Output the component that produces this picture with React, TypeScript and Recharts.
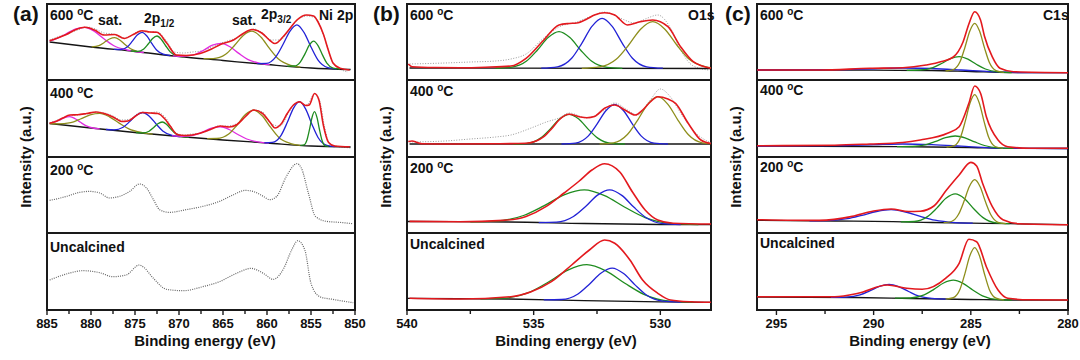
import React from "react";
import { LineChart, Line, XAxis, YAxis, ReferenceArea } from "recharts";

type Pt = [number, number];

const FONT = '"Liberation Sans", Arial, sans-serif';
const INK = "#1a1a1a";

// row edges (px), shared by the three panels
const ROW_EDGES = [4, 80, 157, 233, 310];
const temps = ["600", "400", "200", "Uncalcined"];

// ---------- Ni 2p ----------
const niTicks = [885, 882.5, 880, 877.5, 875, 872.5, 870, 867.5, 865, 862.5, 860, 857.5, 855, 852.5, 850];

const ni600Base: Pt[] = [[884.7, 38], [880, 33], [875, 28.5], [870, 23.5], [865, 19.5], [860, 15.5], [855, 12], [850.5, 10.5]];
const ni600Fit: Pt[] = [[884.7, 39.3], [883.8, 42], [882.8, 45.5], [881.7, 50.5], [880.7, 52.7], [879.6, 50], [878.5, 45], [877.3, 45.5], [876.2, 41.5], [875.2, 45.5], [874.2, 49.3], [873.3, 48], [872.5, 47.7], [871.4, 37], [870.3, 25], [869.2, 24.5], [867.6, 26.5], [866.3, 31], [865.3, 35.5], [863.8, 40], [862.7, 46.5], [861.7, 50.5], [860.6, 47], [859.6, 39], [859.1, 36.5], [858.2, 43], [857.4, 51.5], [856.6, 60], [855.5, 65], [854.7, 64], [854.2, 58], [853.6, 46], [853, 29], [852.5, 17], [851.7, 11.7], [850.6, 10]];
const ni600Raw: Pt[] = [[884.7, 40], [883.5, 44], [882.5, 47], [881.5, 50], [880.5, 53], [879.5, 51], [878.5, 47], [877.5, 46], [876.5, 42], [875.5, 44], [874.5, 49], [873.5, 48], [872.5, 48], [871.5, 40], [870.5, 28], [869.5, 27], [868.5, 28], [867.5, 29], [866.5, 32], [865.5, 36], [864.5, 39], [863.5, 42], [862.5, 47], [861.5, 51], [860.5, 47], [859.5, 40], [858.5, 40], [857.5, 50], [856.5, 60], [855.5, 64], [854.5, 62], [853.5, 43], [852.5, 17], [851.5, 10], [850.8, 8]];
const ni600Pink1: Pt[] = [[884.7, 39], [884, 41], [882.9, 45.7], [881.8, 51], [880.7, 52.7], [879.6, 48.6], [878.5, 41], [877.4, 34.2], [875.9, 30], [874, 27.5]];
const ni600Olive1: Pt[] = [[879.9, 33.2], [879.1, 34.4], [878.5, 37.5], [877.9, 41], [877.3, 42.4], [876.7, 39.8], [876.1, 35.2], [875.5, 31.3], [874.7, 28.5]];
const ni600Blue1: Pt[] = [[877.4, 30.7], [876.6, 30.5], [875.85, 33.3], [875.3, 38.8], [874.75, 45], [874.2, 47.7], [873.65, 44], [873.1, 36.6], [872.55, 30], [871.8, 25.8], [871, 24.5]];
const ni600Green1: Pt[] = [[875.5, 29], [874.7, 28.7], [874, 31.1], [873.5, 36], [873, 41.5], [872.5, 44], [872, 40.5], [871.5, 34], [871, 28.1], [870.3, 24.3], [869.5, 23.1]];
const ni600Pink2: Pt[] = [[870.7, 24.2], [869.6, 23.7], [868.2, 25.5], [867.2, 29.8], [866.2, 34.8], [865.2, 36.7], [864.2, 33.2], [863.2, 26.6], [862.2, 20.7], [860.8, 16.7], [859.7, 15.3]];
const ni600Olive2: Pt[] = [[867.2, 21.3], [866.1, 21.4], [864.7, 25.7], [863.7, 34.5], [862.7, 44.6], [861.7, 48.9], [860.7, 43], [859.7, 31.3], [858.7, 21], [857.3, 14.6], [856.2, 12.8]];
const ni600Blue2: Pt[] = [[861.1, 16.4], [860.1, 16.6], [859, 23.2], [858.2, 35.2], [857.4, 48.7], [856.6, 55.1], [855.8, 47.6], [855, 33], [854.2, 19.9], [853.1, 12.4], [852.1, 11]];
const ni600Green2: Pt[] = [[857.7, 13.9], [856.9, 14], [856.2, 18.2], [855.7, 25.9], [855.2, 34.8], [854.7, 38.9], [854.2, 34.4], [853.7, 25.1], [853.2, 16.8], [852.5, 11.9], [851.7, 11]];

const ni400Base: Pt[] = [[884.7, 33.5], [880, 29], [875, 24.5], [870, 20.5], [865, 17], [860, 14], [855, 11], [850.5, 10]];
const ni400Fit: Pt[] = [[884.7, 33.8], [884, 35.5], [883.2, 39], [882.4, 42], [881.5, 42.3], [880.5, 43.5], [879.4, 45], [878.5, 43.5], [877.5, 40], [876.5, 35.5], [875.8, 36], [875, 40.5], [874.2, 44.5], [873.3, 44], [872.4, 43.5], [871.6, 38], [871, 31], [870.2, 22.5], [869.3, 21.5], [867.6, 23.7], [866.3, 28], [865.3, 31], [864.3, 30], [863.4, 32.5], [862.5, 40], [861.5, 47], [860.5, 43.5], [859.6, 34], [859.1, 29], [858.4, 33], [857.7, 43.5], [857, 52], [856.3, 55.3], [855.6, 51.5], [855.2, 52], [854.6, 63.5], [854.1, 57], [853.6, 32], [853, 14.5], [852.3, 11], [850.6, 10.2]];
const ni400Raw: Pt[] = [[884.7, 34], [883.5, 38], [882.5, 41], [881.5, 42], [880.5, 43], [879.5, 45], [878.5, 44], [877.5, 41], [876.5, 37], [875.5, 38], [874.5, 44], [873.5, 44], [872.5, 45], [871.5, 39], [870.5, 25], [869.5, 22], [868.5, 23], [867.5, 24], [866.5, 27], [865.5, 31], [864.5, 31], [863.5, 33], [862.5, 40], [861.5, 47], [860.5, 45], [859.5, 33], [858.5, 31], [857.5, 45], [856.5, 55], [855.5, 52], [854.6, 63], [854, 56], [853.5, 32], [852.8, 12], [851.5, 10], [850.5, 9]];
const ni400Pink1: Pt[] = [[884.7, 33.7], [884.2, 34.8], [883.6, 36.9], [883, 39.4], [882.4, 40.3], [881.8, 38.3], [881.2, 34.7], [880.6, 31.4], [879.8, 29], [879, 28.1]];
const ni400Olive1: Pt[] = [[884.7, 33.5], [883.8, 33.1], [882.3, 34.3], [881.2, 38], [880.1, 42.2], [879, 43.7], [877.9, 40.2], [876.8, 33.9], [875.7, 28.2], [874.2, 24.4], [873, 22.9]];
const ni400Blue1: Pt[] = [[878.3, 27.5], [877.4, 27.2], [876.35, 29.8], [875.6, 35.4], [874.85, 41.8], [874.1, 44.5], [873.35, 40.6], [872.6, 33], [871.85, 26.1], [870.8, 21.6], [869.9, 20.4]];
const ni400Green1: Pt[] = [[874.9, 24.4], [874.1, 24.1], [873.4, 25.8], [872.9, 29.3], [872.4, 33.3], [871.9, 35], [871.4, 32.5], [870.9, 27.7], [870.4, 23.4], [869.7, 20.6], [868.9, 19.7]];
const ni400Pink2: Pt[] = [[870.8, 21.1], [869.7, 20.7], [868.3, 21.9], [867.3, 25.1], [866.3, 28.8], [865.3, 30.2], [864.3, 27.5], [863.3, 22.5], [862.3, 18], [860.9, 14.9], [859.8, 13.9]];
const ni400Olive2: Pt[] = [[866.8, 18.3], [865.7, 18.5], [864.35, 23], [863.4, 32], [862.45, 42.4], [861.5, 46.9], [860.55, 41.2], [859.6, 29.8], [858.65, 19.6], [857.3, 13.4], [856.2, 11.7]];
const ni400Blue2: Pt[] = [[860.3, 14.2], [859.4, 14.6], [858.4, 21.7], [857.7, 34.4], [857, 48.7], [856.3, 55.3], [855.6, 47.9], [854.9, 32.8], [854.2, 19.5], [853.2, 11.6], [852.3, 10.4]];
const ni400Green2: Pt[] = [[856.2, 11.7], [855.8, 12.1], [855.45, 17.3], [855.15, 28.3], [854.9, 39], [854.6, 45.3], [854.3, 38.8], [854.05, 28], [853.75, 16.7], [853.4, 11.2], [853, 10.6]];

const ni200Raw: Pt[] = [[884.7, 32.6], [883.7, 34.5], [882.8, 36.6], [881.3, 40.6], [880.2, 41.6], [879, 40], [877.9, 35], [876.8, 36.6], [875.6, 41.6], [874.5, 49], [873.7, 45], [872.9, 33.3], [872.2, 23.3], [871.1, 20.6], [869.2, 23.3], [867.3, 26.6], [865.4, 31.6], [863.8, 38.3], [862.5, 42.6], [861.6, 41.6], [860.4, 36.6], [859.7, 33.3], [858.9, 36.6], [857.8, 56.6], [856.6, 69.3], [856.1, 65], [855.3, 40], [854.5, 16.6], [853.2, 11.6], [851.7, 10.6], [850.2, 9.3]];
const niUncRaw: Pt[] = [[884.7, 30], [882.8, 36], [880.9, 39.3], [879, 37.3], [877.5, 33.3], [876, 35], [874.5, 45], [874.1, 43.3], [872.9, 31.6], [871.4, 20.6], [869.5, 19.3], [867.3, 23.3], [865.4, 28.3], [863.5, 36.6], [861.8, 41.6], [860.4, 36.6], [859.3, 30.6], [858.1, 41.6], [857.2, 60], [856.5, 69.3], [855.7, 60], [855, 26.6], [854, 13.3], [852.5, 10.6], [850.2, 7.3]];

// ---------- O 1s ----------
const oTicks = [540, 537.5, 535, 532.5, 530];

const o600Base: Pt[] = [[539.9, 12], [528, 11.5]];
const o600Fit: Pt[] = [[539.95, 16], [539.8, 13.3], [538.9, 12.5], [537.9, 12.3], [536.9, 12.8], [535.9, 14], [535.3, 21.7], [534.6, 40], [534, 55], [533.6, 56.5], [533.3, 57], [532.9, 61], [532.6, 65], [532.2, 67.3], [531.8, 65], [531.3, 55], [530.8, 58.3], [530.3, 60], [529.7, 53.3], [529.2, 33.3], [528.7, 18.3], [528, 11.7]];
const o600Raw: Pt[] = [[539.9, 16], [538.5, 17], [537.5, 18], [536.5, 19], [535.9, 21], [535.3, 26], [534.6, 42], [534, 53], [533.3, 58], [532.6, 65], [532.2, 68], [531.6, 62], [531, 57], [530.5, 62], [530.1, 65], [529.6, 52], [529.2, 30], [528.7, 14], [528.1, 10]];
const o600Green: Pt[] = [[536.5, 11.7], [535.9, 12.7], [535.28, 19], [534.85, 30], [534.43, 42.4], [534, 48.3], [533.57, 42.4], [533.15, 30], [532.72, 19], [532.1, 12.7], [531.5, 11.7]];
const o600Blue: Pt[] = [[534.7, 11.8], [534.06, 13.2], [533.5, 21.7], [533.1, 36.7], [532.7, 53.7], [532.3, 61.7], [531.9, 53.7], [531.5, 36.7], [531.1, 21.7], [530.54, 13.2], [529.9, 11.8]];
const o600Olive: Pt[] = [[533.1, 11.7], [532.4, 13.1], [531.73, 21], [531.25, 35], [530.78, 50.8], [530.3, 58.3], [529.82, 50.8], [529.35, 35], [528.87, 21], [528.2, 13.1], [528, 12.3]];

const o400Base: Pt[] = [[539.9, 13], [528, 13]];
const o400Fit: Pt[] = [[539.95, 15.5], [539.8, 16], [539.6, 14.5], [539.4, 13.2], [538, 13], [536.5, 13.2], [535.3, 13.7], [534.9, 16], [534.6, 20.3], [534.3, 28], [534, 37], [533.6, 42.7], [533.2, 40.3], [532.9, 39.3], [532.6, 40.5], [532.2, 48.7], [531.8, 52], [531.4, 47], [531, 42], [530.7, 47], [530.4, 55], [530.1, 60.3], [529.7, 58], [529.4, 53.7], [528.9, 33.7], [528.4, 17], [528, 13.5]];
const o400Raw: Pt[] = [[539.9, 15], [538.5, 16], [537.5, 18], [536.5, 20], [535.9, 22], [535.1, 29], [534.5, 35], [534, 39], [533.6, 44], [532.9, 39], [532.2, 47], [531.8, 54], [531.3, 47], [530.9, 42], [530.4, 57], [530, 68], [529.6, 60], [529.2, 44], [528.6, 24], [528, 14]];
const o400Green: Pt[] = [[535.8, 13], [535.25, 13.7], [534.73, 18.9], [534.35, 27.9], [533.98, 38], [533.6, 42.7], [533.22, 38], [532.85, 27.9], [532.47, 18.9], [531.95, 13.7], [531.4, 13]];
const o400Blue: Pt[] = [[533.9, 13], [533.35, 13.9], [532.85, 20.9], [532.5, 32.9], [532.15, 46.3], [531.8, 52.7], [531.45, 46.3], [531.1, 32.9], [530.75, 20.9], [530.25, 13.9], [529.7, 13]];
const o400Olive: Pt[] = [[532.4, 13.1], [531.85, 14.2], [531.3, 22.5], [530.9, 36.7], [530.5, 52.7], [530.1, 60.3], [529.7, 52.7], [529.3, 36.7], [528.9, 22.5], [528.35, 14.2], [528, 13.3]];

const o200Base: Pt[] = [[540, 11.5], [536, 11], [533, 9.5], [530, 8.5], [528, 8.3]];
const o200Fit: Pt[] = [[539.9, 11.6], [537.9, 11.2], [536.2, 12.6], [535.3, 16.6], [534.5, 26.6], [533.8, 40], [533.2, 52], [532.7, 63], [532.2, 69.3], [531.6, 61], [531.1, 41], [530.6, 23], [530.1, 13], [529.5, 9.8], [528, 9]];
const o200Green: Pt[] = [[537.5, 11.2], [536.5, 11.9], [535.4, 17.5], [534.6, 27.1], [533.8, 38.1], [533, 43.1], [532.2, 37.4], [531.4, 25.8], [530.6, 15.4], [529.5, 9.3], [528.5, 8.3]];
const o200Blue: Pt[] = [[534.8, 10.4], [534.1, 10.8], [533.43, 16.5], [532.95, 26.5], [532.48, 37.9], [532, 43.2], [531.52, 37.6], [531.05, 25.9], [530.57, 15.5], [529.9, 9.3], [529.2, 8.4]];

const oUncBase: Pt[] = [[540, 11.7], [536, 11], [533, 9.3], [530, 8.2], [528, 7.7]];
const oUncFit: Pt[] = [[539.9, 11.7], [537.9, 11], [535.9, 13.3], [535.1, 18.3], [534.3, 28.3], [533.5, 45], [532.8, 60], [532.2, 70], [531.8, 66.7], [531.2, 50], [530.7, 30], [530.1, 16.7], [529.6, 10], [528.8, 8.2], [528, 7.7]];
const oUncGreen: Pt[] = [[537.1, 11.2], [536.2, 11.8], [535.15, 17.9], [534.4, 28.2], [533.65, 39.9], [532.9, 45.3], [532.15, 39.2], [531.4, 26.8], [530.65, 15.7], [529.6, 8.8], [528.7, 7.8]];
const oUncBlue: Pt[] = [[534.6, 10.2], [533.9, 10.5], [533.25, 16], [532.8, 25.8], [532.35, 36.8], [531.9, 41.9], [531.45, 36.4], [531, 25.1], [530.55, 15], [529.9, 8.9], [529.2, 8]];

// ---------- C 1s ----------
const cTicks = [295, 292.5, 290, 287.5, 285, 282.5, 280];

const c600Base: Pt[] = [[296, 10], [290, 9.8], [287, 9.5], [285, 8.5], [283, 7.5], [280, 7.3]];
const c600Fit: Pt[] = [[296, 10], [292.8, 10], [290.2, 11.7], [288.5, 12.3], [287.3, 15], [286.5, 18.5], [285.9, 23], [285.4, 38], [285.1, 56], [284.8, 68.3], [284.5, 60], [284.3, 44], [283.9, 23.3], [283.5, 11.7], [282.8, 8.3], [280, 7.3]];
const c600Blue: Pt[] = [[296, 10], [292, 10.3], [290, 11.2], [288.5, 12], [287, 11.5], [285.5, 10], [284, 8.3], [282.5, 7.4], [280, 7.3]];
const c600Green: Pt[] = [[288.3, 9.7], [287.6, 10], [286.95, 12.4], [286.5, 16.5], [286.05, 21.3], [285.6, 23.3], [285.15, 20.8], [284.7, 15.5], [284.25, 11], [283.6, 8.2], [282.9, 7.5]];
const c600Olive: Pt[] = [[286.3, 9], [285.9, 10.4], [285.55, 18.4], [285.3, 32.8], [285.05, 49.1], [284.8, 56.7], [284.55, 48.9], [284.3, 32.4], [284.05, 17.8], [283.7, 9.4], [283.3, 7.7]];

const c400Base: Pt[] = [[296, 11], [290, 10.5], [287, 10], [285, 9.5], [283, 8.7], [280, 8.5]];
const c400Fit: Pt[] = [[296, 11.3], [292, 11.8], [290.2, 13], [288.5, 14.5], [287.6, 17], [286.2, 23.7], [285.6, 30.3], [285.1, 53.7], [284.8, 71], [284.5, 63.7], [284.2, 40.3], [283.6, 17], [283.1, 10.3], [282, 8.8], [280, 8.7]];
const c400Blue: Pt[] = [[296, 11], [292, 11.3], [290, 12.3], [288.5, 13], [287, 12.3], [285.5, 10.8], [284, 9.2], [282.5, 8.6], [280, 8.5]];
const c400Green: Pt[] = [[288.8, 10.3], [288, 10.5], [287.3, 12.3], [286.8, 15.6], [286.3, 19.3], [285.8, 21], [285.3, 19.1], [284.8, 15.1], [284.3, 11.5], [283.6, 9.2], [282.8, 8.7]];
const c400Olive: Pt[] = [[286.25, 9.8], [285.85, 11.3], [285.52, 20.3], [285.28, 36.1], [285.04, 54], [284.8, 62.4], [284.56, 53.8], [284.32, 35.7], [284.08, 19.7], [283.75, 10.5], [283.35, 8.8]];

const c200Base: Pt[] = [[296, 12.6], [292, 12], [289, 11.3], [287, 10.5], [285, 9.8], [283, 9.3], [280, 8.3]];
const c200Fit: Pt[] = [[296, 13.3], [292.8, 12.6], [291.1, 16.6], [290, 22], [289.1, 24], [288.2, 21.5], [287.6, 21.8], [286.9, 27], [286.25, 43], [285.6, 58], [285, 70.6], [284.7, 67], [284.4, 50], [283.9, 26.6], [283.35, 13.3], [282.5, 9.3], [280, 8.3]];
const c200Blue: Pt[] = [[293.3, 12.2], [292.4, 12.4], [291.35, 14.3], [290.6, 17.7], [289.85, 21.5], [289.1, 23.3], [288.35, 21], [287.6, 16.7], [286.85, 12.8], [285.8, 10.4], [284.9, 9.8]];
const c200Green: Pt[] = [[288.6, 11.1], [287.9, 11.5], [287.23, 16.4], [286.75, 24.9], [286.28, 34.7], [285.8, 39.1], [285.32, 34.3], [284.85, 24.3], [284.37, 15.4], [283.7, 10.1], [283, 9.3]];
const c200Olive: Pt[] = [[286.4, 10.3], [286, 11.5], [285.63, 18.7], [285.35, 31.7], [285.08, 46.3], [284.8, 53.3], [284.52, 46.2], [284.25, 31.4], [283.97, 18.2], [283.6, 10.7], [283.2, 9.3]];

const cUncBase: Pt[] = [[296, 13], [291, 12.5], [288, 11.5], [285, 10.5], [283, 10], [280, 9.8]];
const cUncFit: Pt[] = [[296, 13.3], [292, 13.3], [290.8, 16.7], [289.3, 25], [288.3, 21.7], [287.5, 20.7], [286.3, 31.7], [285.6, 46.7], [285.1, 70.7], [284.7, 68.3], [284.2, 43.3], [283.6, 20], [283.1, 11.7], [282, 10.2], [280, 10]];
const cUncBlue: Pt[] = [[292.2, 12.6], [291.4, 12.9], [290.7, 15.1], [290.2, 19.1], [289.7, 23.6], [289.2, 25.6], [288.7, 23.2], [288.2, 18.5], [287.7, 14.1], [287, 11.6], [286.2, 10.9]];
const cUncGreen: Pt[] = [[288.9, 11.8], [288.1, 12], [287.4, 15.1], [286.9, 20.6], [286.4, 27], [285.9, 29.8], [285.4, 26.6], [284.9, 20], [284.4, 14.2], [283.7, 10.7], [282.9, 10]];
const cUncOlive: Pt[] = [[286.3, 10.9], [285.9, 12.4], [285.55, 21.1], [285.3, 36.6], [285.05, 54.2], [284.8, 62.4], [284.55, 54], [284.3, 36.3], [284.05, 20.6], [283.7, 11.8], [283.3, 10.1]];

// ---------- styling ----------
type Kind = "raw" | "scan" | "base" | "pink" | "olive" | "blue" | "green" | "fit";
const LINE_STYLE: Record<Kind, { stroke: string; width: number; dash?: string }> = {
  raw: { stroke: "#9a9a9a", width: 1, dash: "1 1.6" },
  scan: { stroke: "#666666", width: 1.2, dash: "1 1.2" },
  base: { stroke: "#141414", width: 1.3 },
  pink: { stroke: "#e02ce0", width: 1.3 },
  olive: { stroke: "#8e8e1c", width: 1.3 },
  blue: { stroke: "#2222d6", width: 1.3 },
  green: { stroke: "#1f8c1f", width: 1.3 },
  fit: { stroke: "#e3191e", width: 1.6 },
};

type Curve = [Kind, Pt[]];

const niRows: Curve[][] = [
  [["raw", ni600Raw], ["base", ni600Base], ["pink", ni600Pink1], ["olive", ni600Olive1], ["blue", ni600Blue1], ["green", ni600Green1], ["pink", ni600Pink2], ["olive", ni600Olive2], ["blue", ni600Blue2], ["green", ni600Green2], ["fit", ni600Fit]],
  [["raw", ni400Raw], ["base", ni400Base], ["pink", ni400Pink1], ["olive", ni400Olive1], ["blue", ni400Blue1], ["green", ni400Green1], ["pink", ni400Pink2], ["olive", ni400Olive2], ["blue", ni400Blue2], ["green", ni400Green2], ["fit", ni400Fit]],
  [["scan", ni200Raw]],
  [["scan", niUncRaw]],
];
const oRows: Curve[][] = [
  [["raw", o600Raw], ["base", o600Base], ["green", o600Green], ["blue", o600Blue], ["olive", o600Olive], ["fit", o600Fit]],
  [["raw", o400Raw], ["base", o400Base], ["green", o400Green], ["blue", o400Blue], ["olive", o400Olive], ["fit", o400Fit]],
  [["base", o200Base], ["green", o200Green], ["blue", o200Blue], ["fit", o200Fit]],
  [["base", oUncBase], ["green", oUncGreen], ["blue", oUncBlue], ["fit", oUncFit]],
];
const cRows: Curve[][] = [
  [["base", c600Base], ["blue", c600Blue], ["green", c600Green], ["olive", c600Olive], ["fit", c600Fit]],
  [["base", c400Base], ["blue", c400Blue], ["green", c400Green], ["olive", c400Olive], ["fit", c400Fit]],
  [["base", c200Base], ["blue", c200Blue], ["green", c200Green], ["olive", c200Olive], ["fit", c200Fit]],
  [["base", cUncBase], ["blue", cUncBlue], ["green", cUncGreen], ["olive", cUncOlive], ["fit", cUncFit]],
];

type Panel = {
  left: number;
  right: number;
  domain: [number, number];
  ticks: number[];
  rows: Curve[][];
  tag: string;
  tagLeft: number;
  labelLeft: number;
  labelTops: number[];
  titleCenter: number;
  yLabelCenter: number;
  notes: { left: number; top: number; text: string; sub?: string }[];
};

const panels: Panel[] = [
  {
    left: 47, right: 355, domain: [850, 885], ticks: niTicks, rows: niRows,
    tag: "(a)", tagLeft: 13, labelLeft: 50, labelTops: [8, 86, 163, 240],
    titleCenter: 205, yLabelCenter: 25,
    notes: [
      { left: 98, top: 13, text: "sat." },
      { left: 144, top: 11, text: "2p", sub: "1/2" },
      { left: 232, top: 13, text: "sat." },
      { left: 261, top: 7, text: "2p", sub: "3/2" },
      { left: 319, top: 8, text: "Ni 2p" },
    ],
  },
  {
    left: 407, right: 711, domain: [528, 540], ticks: oTicks, rows: oRows,
    tag: "(b)", tagLeft: 373, labelLeft: 410, labelTops: [8, 84, 161, 237],
    titleCenter: 566, yLabelCenter: 385,
    notes: [{ left: 688, top: 8, text: "O1s" }],
  },
  {
    left: 757, right: 1068, domain: [280, 296], ticks: cTicks, rows: cRows,
    tag: "(c)", tagLeft: 725, labelLeft: 760, labelTops: [8, 83, 160, 236],
    titleCenter: 920, yLabelCenter: 735,
    notes: [{ left: 1043, top: 8, text: "C1s" }],
  },
];

const PAD = 14; // side room so edge tick labels are not clipped

const isMajor = (v: number) => Math.abs(v % 5) < 1e-6;

const TopTick = (p: any) => (
  <line x1={p.x} x2={p.x} y1={p.y} y2={p.y + (isMajor(p.payload.value) ? 5 : 4)} stroke={INK} strokeWidth={1.4} />
);

const BottomTick = (p: any) => {
  const v = p.payload.value;
  const major = isMajor(v);
  return (
    <g>
      <line x1={p.x} x2={p.x} y1={p.y} y2={p.y + (major ? 5 : 4)} stroke={INK} strokeWidth={1.4} />
      {major && (
        <text x={p.x} y={p.y + 18} textAnchor="middle" fontFamily={FONT} fontWeight="bold" fontSize={13} fill="#111">
          {v}
        </text>
      )}
    </g>
  );
};

function Row({ panel, index }: { panel: Panel; index: number }) {
  const top = ROW_EDGES[index];
  const h = ROW_EDGES[index + 1] - top;
  const last = index === 3;
  const w = panel.right - panel.left;
  const [lo, hi] = panel.domain;
  return (
    <div style={{ position: "absolute", left: panel.left - PAD, top: top - 1 }}>
      <LineChart width={w + 2 * PAD} height={h + 1 + (last ? 30 : 1)} margin={{ top: 1, right: PAD, bottom: last ? 0 : 1, left: PAD }}>
        <XAxis
          xAxisId="t" orientation="top" type="number" dataKey="x" domain={panel.domain} reversed allowDataOverflow
          ticks={panel.ticks} interval={0} height={0} axisLine={false} tickLine={false} tickSize={0} tickMargin={0}
          tick={index === 0 ? false : TopTick}
        />
        {last && (
          <XAxis
            xAxisId="b" orientation="bottom" type="number" dataKey="x" domain={panel.domain} reversed allowDataOverflow
            ticks={panel.ticks} interval={0} height={30} axisLine={false} tickLine={false} tickSize={0} tickMargin={0}
            tick={BottomTick}
          />
        )}
        <YAxis yAxisId="y" hide type="number" domain={[0, h]} allowDataOverflow />
        {panel.rows[index].map(([kind, pts], i) => {
          const s = LINE_STYLE[kind];
          return (
            <Line
              key={i} xAxisId="t" yAxisId="y" data={pts.map(([x, y]) => ({ x, y }))} dataKey="y"
              type="monotone" stroke={s.stroke} strokeWidth={s.width} strokeDasharray={s.dash}
              dot={false} activeDot={false} isAnimationActive={false}
            />
          );
        })}
        <ReferenceArea xAxisId="t" yAxisId="y" x1={lo} x2={hi} y1={0} y2={h} fill="none" stroke={INK} strokeWidth={2} ifOverflow="visible" />
      </LineChart>
    </div>
  );
}

const textBase: React.CSSProperties = { position: "absolute", fontFamily: FONT, fontWeight: "bold", color: "#111", lineHeight: 1, whiteSpace: "nowrap" };

function TempLabel({ t }: { t: string }) {
  if (t === "Uncalcined") return <>Uncalcined</>;
  return (
    <>
      {t} <span style={{ fontSize: 10, position: "relative", top: -5 }}>o</span>C
    </>
  );
}

export default function App() {
  return (
    <div style={{ position: "absolute", left: 0, top: 0, width: 1080, height: 360, background: "#fff", overflow: "hidden" }}>
      {panels.map((p, pi) => (
        <React.Fragment key={pi}>
          {[0, 1, 2, 3].map((i) => (
            <Row key={i} panel={p} index={i} />
          ))}
          <div style={{ ...textBase, left: p.tagLeft, top: 3, fontSize: 21 }}>{p.tag}</div>
          {temps.map((t, i) => (
            <div key={t} style={{ ...textBase, left: p.labelLeft, top: p.labelTops[i], fontSize: 14 }}>
              <TempLabel t={t} />
            </div>
          ))}
          {p.notes.map((n, i) => (
            <div key={i} style={{ ...textBase, left: n.left, top: n.top, fontSize: 14 }}>
              {n.text}
              {n.sub && <span style={{ fontSize: 10, position: "relative", top: 4 }}>{n.sub}</span>}
            </div>
          ))}
          <div style={{ ...textBase, left: p.titleCenter, top: 340, fontSize: 15, transform: "translate(-50%, -50%)" }}>
            Binding energy (eV)
          </div>
          <div style={{ ...textBase, left: p.yLabelCenter, top: 157, fontSize: 15, transform: "translate(-50%, -50%) rotate(-90deg)" }}>
            Intensity (a.u.)
          </div>
        </React.Fragment>
      ))}
    </div>
  );
}
